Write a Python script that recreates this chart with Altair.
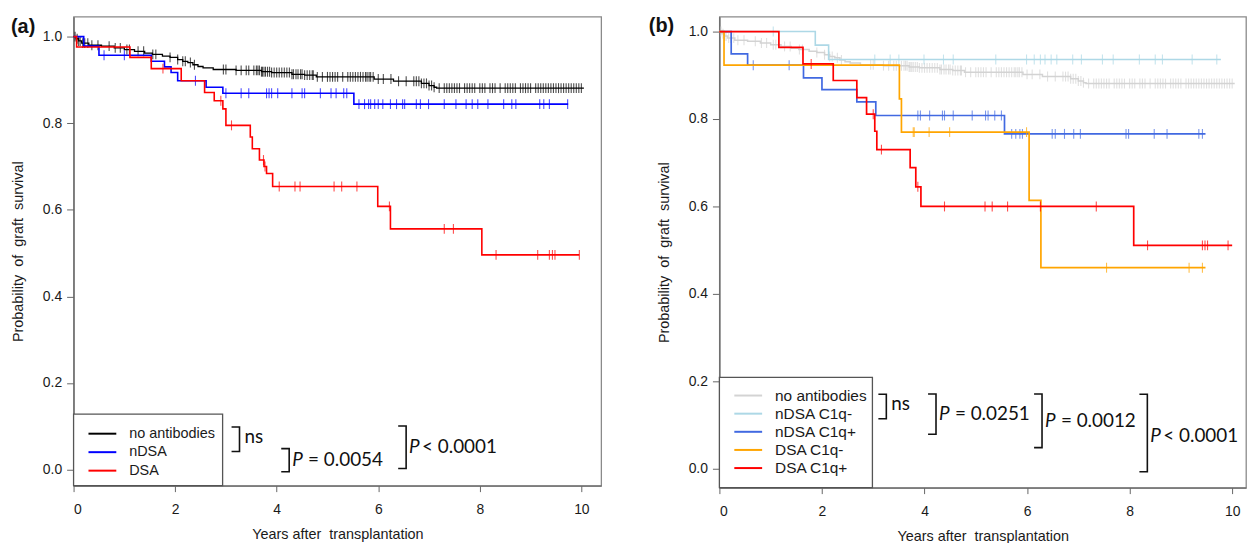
import altair as alt
import numpy as np
import pandas as pd

# ---------------- data: panel (a) ----------------
A_GROUPS = ["no antibodies", "nDSA", "DSA"]
A_COLORS = ["#000000", "#0000ff", "#ff0000"]

NOAB_T = [0, 0.05, 0.1, 0.16, 0.3, 0.55, 0.8, 1.0, 1.2, 1.4, 1.55, 1.75, 1.9, 2.05, 2.15, 2.25,
          2.35, 2.45, 2.55, 2.75, 3.2, 3.7, 3.9, 4.3, 4.55, 4.78, 5.92, 6.3, 6.85, 7.0, 7.1, 7.15]
NOAB_S = [1.0, 0.995, 0.99, 0.985, 0.98, 0.978, 0.974, 0.97, 0.966, 0.962, 0.959, 0.955, 0.952,
          0.947, 0.943, 0.94, 0.935, 0.931, 0.928, 0.924, 0.922, 0.919, 0.917, 0.913, 0.911, 0.907,
          0.902, 0.897, 0.892, 0.887, 0.883, 0.881]
NOAB_END = 10.05
NOAB_CENS = [0.03, 0.07, 0.1, 0.13, 0.18, 0.22, 0.28, 0.36, 0.48, 0.7, 0.82, 0.92, 1.05, 1.1, 1.27,
             1.38, 1.56, 1.62, 1.9, 2.05, 2.15, 2.2, 2.3, 2.38, 2.95, 3.0, 3.2, 3.3, 3.4, 3.45, 3.55,
             3.6, 3.63, 3.66, 3.7, 3.72, 3.75, 3.78, 3.82, 3.86, 3.9, 3.95, 4.0, 4.05, 4.1, 4.15,
             4.2, 4.25, 4.3, 4.33, 4.38, 4.42, 4.47, 4.5, 4.55, 4.6, 4.65, 4.7, 4.72, 4.8, 4.9,
             5.0, 5.05, 5.1, 5.15, 5.2, 5.3, 5.4, 5.45, 5.5, 5.55, 5.6, 5.65, 5.7, 5.75, 5.78,
             5.82, 5.85, 5.9, 6.0, 6.1, 6.25, 6.4, 6.55, 6.7, 6.75, 6.8, 6.85, 6.9, 6.95, 7.0,
             7.05, 7.1, 7.2, 7.3, 7.35, 7.4, 7.45, 7.5, 7.55, 7.6, 7.7, 7.75, 7.8, 7.85, 7.9, 8.0,
             8.05, 8.1, 8.2, 8.25, 8.3, 8.4, 8.5, 8.55, 8.6, 8.65, 8.7, 8.8, 8.85, 8.9, 8.95, 9.0,
             9.1, 9.15, 9.2, 9.25, 9.3, 9.35, 9.4, 9.45, 9.5, 9.55, 9.6, 9.65, 9.7, 9.75, 9.8,
             9.85, 9.9, 9.95, 10.0]

NDSA_T = [0, 0.2, 0.5, 1.53, 1.79, 1.92, 2.05, 2.61, 2.94, 5.52]
NDSA_S = [1.0, 0.978, 0.957, 0.943, 0.93, 0.917, 0.898, 0.883, 0.869, 0.844]
NDSA_END = 9.74
NDSA_CENS = [0.6, 1.0, 2.4, 3.0, 3.3, 3.45, 3.8, 3.85, 3.9, 4.02, 4.3, 4.5, 4.55, 4.86, 5.07,
             5.17, 5.32, 5.38, 5.62, 5.73, 5.81, 5.85, 5.93, 6.0, 6.09, 6.24, 6.36, 6.48, 6.52,
             6.75, 6.83, 6.99, 7.3, 7.53, 7.73, 7.85, 7.96, 8.16, 8.47, 8.63, 8.71, 9.18, 9.26,
             9.37, 9.73]

DSA_T = [0, 0.06, 1.11, 1.53, 2.12, 2.58, 2.77, 2.94, 3.0, 3.48, 3.52, 3.66, 3.75, 3.8, 3.92,
         5.99, 6.24, 8.04]
DSA_S = [1.0, 0.976, 0.952, 0.926, 0.898, 0.871, 0.852, 0.833, 0.795, 0.768, 0.741, 0.715, 0.70,
         0.684, 0.654, 0.608, 0.556, 0.496]
DSA_END = 9.96
DSA_CENS = [1.76, 2.9, 3.11, 3.74, 3.77, 4.05, 4.36, 4.46, 5.13, 5.28, 5.58, 6.22, 7.3, 7.48,
            8.32, 9.14, 9.37, 9.43, 9.48, 9.96]

A_PTEXT = ["ns", "P = 0.0054", "P < 0.0001"]

# ---------------- data: panel (b) ----------------
B_GROUPS = ["no antibodies", "nDSA C1q-", "nDSA C1q+", "DSA C1q-", "DSA C1q+"]
B_COLORS = ["#d3d3d3", "#add8e6", "#4169e1", "#ffa500", "#ff0000"]

NEG_T = [0, 1.87, 2.13]
NEG_S = [1.0, 0.969, 0.936]
NEG_END = 9.78
NEG_CENS = [1.05, 3.03, 3.33, 3.5, 3.99, 4.37, 4.56, 5.39, 5.99, 6.14, 6.26, 6.35, 6.47, 6.58,
            6.89, 7.06, 7.47, 7.68, 8.19, 8.5, 8.64, 9.22, 9.7]

NPOS_T = [0, 0.23, 0.55, 1.64, 2.0, 2.68, 3.05, 5.56]
NPOS_S = [1.0, 0.949, 0.923, 0.894, 0.867, 0.839, 0.808, 0.766]
NPOS_END = 9.48
NPOS_CENS = [0.66, 1.36, 3.87, 3.92, 4.1, 4.35, 4.39, 4.56, 4.93, 5.19, 5.24, 5.37, 5.5, 5.7,
             5.78, 5.86, 5.91, 6.49, 6.55, 6.73, 6.91, 7.04, 7.93, 7.98, 8.48, 8.73, 9.35, 9.42]

DNEG_T = [0, 0.09, 3.51, 3.55, 6.04, 6.27]
DNEG_S = [1.0, 0.923, 0.846, 0.77, 0.614, 0.46]
DNEG_END = 9.48
DNEG_CENS = [3.78, 3.8, 4.09, 4.49, 5.99, 7.55, 9.16, 9.42]

DPOS_T = [0, 1.16, 1.63, 2.22, 2.68, 2.87, 3.03, 3.07, 3.72, 3.83, 3.93, 8.08]
DPOS_S = [1.0, 0.964, 0.926, 0.888, 0.849, 0.811, 0.772, 0.73, 0.689, 0.645, 0.60, 0.511]
DPOS_END = 10.0
DPOS_CENS = [1.79, 3.0, 3.16, 3.87, 4.39, 5.18, 5.32, 5.62, 6.26, 7.35, 8.35, 9.42, 9.47, 9.52,
             9.92]

B_PTEXT = ["ns", "P = 0.0251", "P = 0.0012", "P < 0.0001"]

X_TICKS = [0, 2, 4, 6, 8, 10]
Y_TICKS = [0.0, 0.2, 0.4, 0.6, 0.8, 1.0]

# ---------------- helpers ----------------
AX_FONT = "Liberation Sans"
P_FONT = "Lato"


def steps_df(t, s, end):
    return pd.DataFrame({"t": list(t) + [end], "s": list(s) + [s[-1]]})


def cens_df(t, s, cens):
    idx = np.searchsorted(np.array(t), np.array(cens), side="right") - 1
    return pd.DataFrame({"t": cens, "s": np.array(s)[idx]})


def panel(label, curves, groups, colors, xdom, ydom, w, h, leg, brackets, ptexts):
    xs = alt.Scale(domain=xdom, nice=False, zero=False)
    ys = alt.Scale(domain=ydom, nice=False, zero=False)
    xax = alt.Axis(values=X_TICKS, format="d", tickSize=6, labelPadding=11,
                   title="Years after\u00a0 transplantation", titleY=42)
    yax = alt.Axis(values=Y_TICKS, format=".1f", tickSize=7, labelPadding=5,
                   title="Probability\u00a0 of\u00a0 graft\u00a0 survival",
                   titleX=-51, titleY=h / 2, titleBaseline="alphabetic", titleAlign="center")
    X = alt.X("t:Q", scale=xs, axis=xax)
    Y = alt.Y("s:Q", scale=ys, axis=yax)
    layers = []
    for (t, s, end, cens, lw), col in zip(curves, colors):
        layers.append(alt.Chart(steps_df(t, s, end)).mark_line(
            interpolate="step-after", color=col, strokeWidth=lw).encode(x=X, y=Y))
        layers.append(alt.Chart(cens_df(t, s, cens)).mark_tick(
            orient="vertical", color=col, size=10, thickness=1.1).encode(x=X, y=Y))

    # legend box + entries
    lx2, ly1, first, step, tx, lfs = leg
    dummy = pd.DataFrame({"k": [0]})
    layers.append(alt.Chart(dummy).mark_rect(fill="white", stroke="#555555", strokeWidth=1.3)
                  .encode(x=alt.value(0), x2=alt.value(lx2), y=alt.value(ly1), y2=alt.value(h)))
    legdf = pd.DataFrame({"name": groups, "row": list(range(len(groups)))})
    cscale = alt.Scale(domain=groups, range=colors)
    base = alt.Chart(legdf).transform_calculate(ly=f"{first} + datum.row * {step}")
    layers.append(base.mark_rule(strokeWidth=2).encode(
        x=alt.value(15), x2=alt.value(43),
        y=alt.Y("ly:Q", scale=None, axis=None),
        color=alt.Color("name:N", scale=cscale, legend=None)))
    layers.append(base.mark_text(align="left", baseline="middle", font=AX_FONT, fontSize=lfs,
                                 color="#1a1a1a").encode(
        x=alt.value(tx), y=alt.Y("ly:Q", scale=None, axis=None), text="name:N"))

    # brackets
    rows = []
    for i, (bx, y0, y1) in enumerate(brackets):
        for k, (px, py) in enumerate([(bx - 8, y0), (bx, y0), (bx, y1), (bx - 8, y1)]):
            rows.append({"id": i, "k": k, "px": px, "py": py})
    layers.append(alt.Chart(pd.DataFrame(rows)).mark_line(color="#111111", strokeWidth=1.6)
                  .encode(x=alt.X("px:Q", scale=None, axis=None),
                          y=alt.Y("py:Q", scale=None, axis=None),
                          detail="id:N", order="k:Q"))

    # p-value texts
    it_rows, rest_rows = [], []
    for txt, (bx, y0, y1), dy in zip(ptexts, brackets, [0, 0, 0, 3]):
        cy = (y0 + y1) / 2 + dy
        if txt.startswith("P "):
            it_rows.append({"px": bx + 3, "py": cy, "txt": "P"})
            rest = txt[2:]
            off = 16 if rest.startswith("=") else 13
            rest_rows.append({"px": bx + 3 + off, "py": cy, "txt": rest})
        else:
            rest_rows.append({"px": bx + 5, "py": cy - 2, "txt": txt})
    layers.append(alt.Chart(pd.DataFrame(it_rows)).mark_text(
        align="left", baseline="middle", font=P_FONT, fontSize=19, fontStyle="italic",
        color="#111111").encode(x=alt.X("px:Q", scale=None, axis=None),
                                y=alt.Y("py:Q", scale=None, axis=None), text="txt:N"))
    layers.append(alt.Chart(pd.DataFrame(rest_rows)).mark_text(
        align="left", baseline="middle", font=P_FONT, fontSize=19,
        color="#111111").encode(x=alt.X("px:Q", scale=None, axis=None),
                                y=alt.Y("py:Q", scale=None, axis=None), text="txt:N"))

    # panel label
    layers.append(alt.Chart(dummy).mark_text(
        align="left", baseline="alphabetic", font=AX_FONT, fontSize=20, fontWeight="bold",
        color="#111111").encode(x=alt.value(label[1]), y=alt.value(label[2]),
                                text=alt.value(label[0])))
    return alt.layer(*layers).properties(width=w, height=h)


HA, HB = 472, 474
pa = panel(("(a)", -63, 16),
           [(NOAB_T, NOAB_S, NOAB_END, NOAB_CENS, 1.3),
            (NDSA_T, NDSA_S, NDSA_END, NDSA_CENS, 1.6),
            (DSA_T, DSA_S, DSA_END, DSA_CENS, 1.6)],
           A_GROUPS, A_COLORS, [0, 10.39], [-0.037, 1.046], 531, HA,
           (150, 400, 419.7, 18.6, 56, 14.5),
           [(167, 413, 437.7), (217, 434.7, 458), (334.7, 412, 454.7)],
           A_PTEXT)
pb = panel(("(b)", -71, 15),
           [(NOAB_T, NOAB_S, NOAB_END, NOAB_CENS, 1.5),
            (NEG_T, NEG_S, NEG_END, NEG_CENS, 1.6),
            (NPOS_T, NPOS_S, NPOS_END, NPOS_CENS, 1.7),
            (DNEG_T, DNEG_S, DNEG_END, DNEG_CENS, 1.7),
            (DPOS_T, DPOS_S, DPOS_END, DPOS_CENS, 1.7)],
           B_GROUPS, B_COLORS, [0, 10.27], [-0.043, 1.034], 530, HB,
           (154, 363, 381.3, 18.25, 56, 15.5),
           [(168, 380, 404.7), (218, 379.7, 420.3), (324.7, 379.7, 433.7), (430.7, 380, 458)],
           B_PTEXT)

chart = (alt.hconcat(pa, pb, spacing=46)
         .resolve_scale(x="independent", y="independent", color="independent")
         .configure(padding={"left": 2, "top": 5, "right": 0, "bottom": 0})
         .configure_view(stroke="#8a8a8a", strokeWidth=1.3)
         .configure_axis(labelFont=AX_FONT, labelFontSize=14, titleFont=AX_FONT,
                         titleFontSize=14.5, titleFontWeight="normal", labelColor="#1a1a1a",
                         titleColor="#1a1a1a", domainColor="#666666", tickColor="#666666",
                         domainWidth=1.3, tickWidth=1, grid=False))

chart.save("out.html", embed_options={"renderer": "svg", "actions": False})
